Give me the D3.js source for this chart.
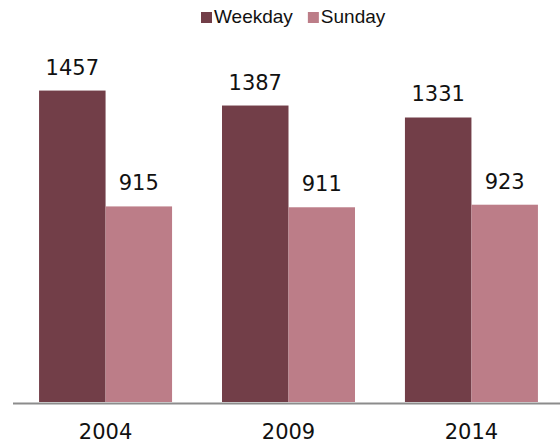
<!DOCTYPE html>
<html>
<head>
<meta charset="utf-8">
<script src="https://cdn.jsdelivr.net/npm/d3@7"></script>
<style>
  body { margin: 0; background: #fff; }
  svg { display: block; }
</style>
</head>
<body>
<svg></svg>
<script>
const size = {w: 560, h: 445};
const svg = d3.select('svg')
    .attr('width', size.w)
    .attr('height', size.h);

// data
const years = ['2004', '2009', '2014'];
const series = ['Weekday', 'Sunday'];
const weekday = [1457, 1387, 1331];
const sunday = [915, 911, 923];
const colors = ['#723e48', '#bc7d88'];

const rows = years.map((y, i) => ({year: y, values: [weekday[i], sunday[i]]}));

// plot area
const plot = {l: 14, r: 563, base: 402, top: 60};

let x0 = d3.scaleBand()
    .domain(years)
    .range([plot.l, plot.r])
    .paddingInner(0.273)
    .paddingOuter(0.137);

let x1 = d3.scaleBand()
    .domain(series)
    .range([0, x0.bandwidth()]);

let y = d3.scaleLinear()
    .domain([0, 1600])
    .range([plot.base, plot.top]);

let color = d3.scaleOrdinal().domain(series).range(colors);

// bars
let groups = svg.append('g').classed('bars', true)
    .selectAll('g')
    .data(rows)
    .join('g')
    .attr('transform', d => `translate(${x0(d.year)},0)`);

groups.selectAll('rect')
    .data(d => d.values.map((v, i) => ({key: series[i], value: v})))
    .join('rect')
    .attr('x', d => x1(d.key))
    .attr('y', d => y(d.value))
    .attr('width', x1.bandwidth())
    .attr('height', d => y(0) - y(d.value))
    .attr('fill', d => color(d.key));

// value labels
groups.selectAll('text')
    .data(d => d.values.map((v, i) => ({key: series[i], value: v})))
    .join('text')
    .attr('x', d => x1(d.key) + x1.bandwidth() / 2)
    .attr('y', d => y(d.value) - 16)
    .attr('text-anchor', 'middle')
    .style('font-family', '"DejaVu Sans", sans-serif')
    .style('font-size', '21px')
    .style('fill', '#111')
    .text(d => d.value);

// x axis
let xAxis = d3.axisBottom(x0).tickSize(0).tickPadding(0);
let axisG = svg.append('g')
    .attr('transform', `translate(0,${plot.base + 1.5})`)
    .call(xAxis);
axisG.select('.domain')
    .attr('d', `M${plot.l - 1},0H${plot.r}`)
    .attr('stroke', '#8c8c8c')
    .attr('stroke-width', 2.2);
axisG.selectAll('.tick text')
    .attr('y', 35)
    .attr('dy', 0)
    .style('font-family', '"DejaVu Sans", sans-serif')
    .style('font-size', '21px')
    .style('fill', '#111');

// legend
let legend = svg.append('g').classed('legend', true)
    .attr('transform', 'translate(201,0)');
let lx = 0;
series.forEach((s, i) => {
    let item = legend.append('g').attr('transform', `translate(${lx},0)`);
    item.append('rect')
        .attr('x', 0)
        .attr('y', 12)
        .attr('width', 11)
        .attr('height', 11)
        .attr('fill', color(s));
    let t = item.append('text')
        .attr('x', 13)
        .attr('y', 22.5)
        .style('font-family', '"Liberation Sans", Arial, sans-serif')
        .style('font-size', '19px')
        .style('fill', '#111')
        .text(s);
    lx += 13 + t.node().getComputedTextLength() + 15;
});
</script>
</body>
</html>
